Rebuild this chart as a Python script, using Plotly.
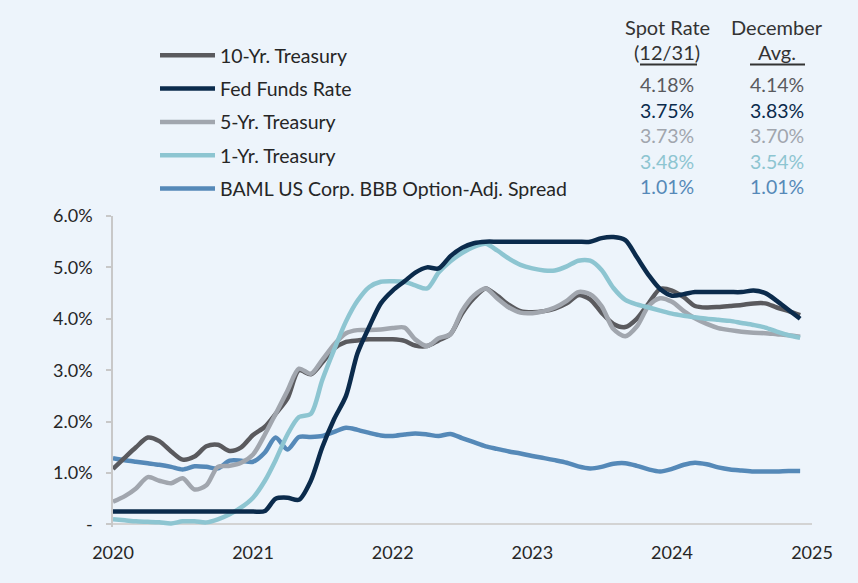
import plotly.graph_objects as go
import pandas as pd

# ---------------- data (monthly, Jan 2020 - Dec 2024) ----------------
dates = pd.date_range("2020-01-01", periods=60, freq="MS")

treasury_10y = [1.08, 1.30, 1.50, 1.69, 1.62, 1.42, 1.26, 1.32, 1.52, 1.55, 1.43, 1.50,
                1.74, 1.90, 2.15, 2.45, 3.00, 2.92, 3.15, 3.42, 3.55, 3.58, 3.60, 3.60,
                3.60, 3.57, 3.48, 3.47, 3.58, 3.70, 4.10, 4.40, 4.59, 4.45, 4.27, 4.15,
                4.13, 4.15, 4.20, 4.30, 4.46, 4.38, 4.12, 3.90, 3.84, 4.00, 4.30, 4.58,
                4.55, 4.42, 4.25, 4.22, 4.23, 4.25, 4.27, 4.30, 4.30, 4.22, 4.15, 4.07]

fed_funds = [0.25, 0.25, 0.25, 0.25, 0.25, 0.25, 0.25, 0.25, 0.25, 0.25, 0.25, 0.25,
             0.25, 0.26, 0.50, 0.52, 0.48, 0.85, 1.50, 2.05, 2.50, 3.33, 3.85, 4.30,
             4.55, 4.73, 4.90, 5.00, 4.98, 5.22, 5.38, 5.47, 5.50, 5.50, 5.50, 5.50,
             5.50, 5.50, 5.50, 5.50, 5.50, 5.50, 5.57, 5.59, 5.53, 5.20, 4.85, 4.58,
             4.45, 4.48, 4.52, 4.52, 4.52, 4.52, 4.52, 4.55, 4.50, 4.35, 4.17, 4.00]

treasury_5y = [0.44, 0.55, 0.70, 0.92, 0.85, 0.80, 0.90, 0.68, 0.76, 1.12, 1.14, 1.20,
               1.36, 1.75, 2.15, 2.60, 3.03, 2.93, 3.20, 3.50, 3.72, 3.78, 3.78, 3.79,
               3.82, 3.83, 3.60, 3.47, 3.62, 3.70, 4.15, 4.45, 4.59, 4.40, 4.22, 4.12,
               4.11, 4.15, 4.22, 4.35, 4.52, 4.48, 4.25, 3.80, 3.66, 3.85, 4.25, 4.40,
               4.33, 4.15, 4.01, 3.90, 3.82, 3.78, 3.75, 3.73, 3.72, 3.70, 3.68, 3.65]

treasury_1y = [0.10, 0.08, 0.06, 0.05, 0.04, 0.02, 0.06, 0.06, 0.04, 0.10, 0.20, 0.33,
               0.52, 0.85, 1.25, 1.75, 2.09, 2.15, 2.81, 3.40, 3.95, 4.35, 4.62, 4.72,
               4.73, 4.72, 4.65, 4.59, 4.90, 5.12, 5.28, 5.40, 5.46, 5.33, 5.17, 5.05,
               4.98, 4.94, 4.94, 5.02, 5.13, 5.13, 4.95, 4.60, 4.37, 4.28, 4.22, 4.16,
               4.10, 4.06, 4.03, 4.00, 3.98, 3.96, 3.92, 3.88, 3.83, 3.75, 3.68, 3.63]

bbb_spread = [1.29, 1.25, 1.22, 1.19, 1.16, 1.12, 1.07, 1.13, 1.12, 1.09, 1.24, 1.24,
              1.22, 1.40, 1.69, 1.46, 1.70, 1.70, 1.72, 1.80, 1.88, 1.84, 1.78, 1.73,
              1.72, 1.75, 1.77, 1.75, 1.72, 1.76, 1.68, 1.60, 1.52, 1.47, 1.42, 1.38,
              1.33, 1.29, 1.25, 1.20, 1.13, 1.09, 1.12, 1.18, 1.19, 1.14, 1.07, 1.03,
              1.08, 1.16, 1.20, 1.17, 1.11, 1.07, 1.05, 1.03, 1.03, 1.03, 1.04, 1.04]

series_names = ["10-Yr. Treasury", "Fed Funds Rate", "5-Yr. Treasury",
                "1-Yr. Treasury", "BAML US Corp. BBB Option-Adj. Spread"]
series_values = [treasury_10y, fed_funds, treasury_5y, treasury_1y, bbb_spread]
series_colors = ["#5a5a5e", "#0b2b4c", "#a1a6ae", "#8dc5d1", "#5589b8"]

spot_rate = ["4.18%", "3.75%", "3.73%", "3.48%", "1.01%"]
december_avg = ["4.14%", "3.83%", "3.70%", "3.54%", "1.01%"]

y_tickvals = [0, 1, 2, 3, 4, 5, 6]
y_ticktext = ["-", "1.0%", "2.0%", "3.0%", "4.0%", "5.0%", "6.0%"]
x_tickvals = ["2020-01-01", "2021-01-01", "2022-01-01", "2023-01-01", "2024-01-01", "2025-01-01"]
x_ticktext = ["2020", "2021", "2022", "2023", "2024", "2025"]

# ---------------- layout geometry ----------------
W, H = 858, 583
PL, PR, PT = 113, 812, 216
Y0 = -0.05
PB = 524.5 + (0 - Y0) * (524.5 - 216) / 6.0
BG = "#edf4fb"
FONT = "Lato"
TXT = "#262626"
BIG = 19.5


def px_x(x):
    return (x - PL) / (PR - PL)


def px_y(y):
    return (PB - y) / (PB - PT)


fig = go.Figure()

draw_order = [4, 0, 2, 3, 1]  # bottom -> top
for i in draw_order:
    fig.add_trace(go.Scatter(
        x=dates, y=series_values[i], name=series_names[i], mode="lines",
        line=dict(color=series_colors[i], width=4.5, shape="spline", smoothing=0.8),
        legendrank=i + 1, legendgroup=str(i), hoverinfo="skip",
    ))

annotations = []
# table headers
for cx, l1, l2 in [(667, "Spot Rate", "(12/31)"), (777, "December", "Avg.")]:
    annotations.append(dict(x=px_x(cx), y=px_y(27), xref="paper", yref="paper",
                            text=l1, showarrow=False, xanchor="center", yanchor="middle",
                            font=dict(family=FONT, size=20, color="#333333")))
    annotations.append(dict(x=px_x(cx), y=px_y(52), xref="paper", yref="paper",
                            text=l2, showarrow=False, xanchor="center", yanchor="middle",
                            font=dict(family=FONT, size=20, color="#333333")))
row_y = [84, 110, 135.5, 161, 186.5]
for k in range(5):
    for cx, vals in [(667, spot_rate), (777, december_avg)]:
        annotations.append(dict(x=px_x(cx), y=px_y(row_y[k]), xref="paper", yref="paper",
                                text=vals[k], showarrow=False, xanchor="center", yanchor="middle",
                                font=dict(family=FONT, size=BIG, color=series_colors[k])))

shapes = [
    dict(type="line", xref="paper", yref="paper", x0=px_x(640), x1=px_x(697),
         y0=px_y(64.5), y1=px_y(64.5), line=dict(color="#333333", width=2)),
    dict(type="line", xref="paper", yref="paper", x0=px_x(750), x1=px_x(805),
         y0=px_y(64.5), y1=px_y(64.5), line=dict(color="#333333", width=2)),
]

fig.update_layout(
    width=W, height=H,
    paper_bgcolor=BG, plot_bgcolor=BG,
    margin=dict(l=PL, r=W - PR, t=PT, b=H - PB, autoexpand=False),
    font=dict(family=FONT, size=18, color=TXT),
    showlegend=True,
    legend=dict(xref="container", yref="container", x=155 / W, y=1 - 36 / H,
                xanchor="left", yanchor="top", bgcolor="rgba(0,0,0,0)",
                font=dict(family=FONT, size=BIG, color=TXT),
                itemwidth=55, tracegroupgap=5, traceorder="grouped"),
    annotations=annotations,
    shapes=shapes,
    hovermode=False,
    xaxis=dict(type="date", range=["2020-01-01", "2025-01-01"],
               tickvals=x_tickvals, ticktext=x_ticktext,
               showgrid=False, zeroline=False, showline=False,
               ticks="outside", ticklen=0, tickcolor=BG, ticklabelstandoff=9,
               tickfont=dict(family=FONT, size=18, color=TXT)),
    yaxis=dict(range=[Y0, 6.0], tickvals=y_tickvals, ticktext=y_ticktext,
               showgrid=False, zeroline=True, zerolinecolor="#d3d3d3", zerolinewidth=2,
               showline=True, linecolor="#c8c8c8", linewidth=1.5,
               ticks="outside", ticklen=5, tickcolor="#c8c8c8", tickwidth=1.5,
               ticklabelstandoff=10,
               tickfont=dict(family=FONT, size=18, color=TXT)),
)

fig.write_html(
    "out.html",
    config={"displayModeBar": False},
    post_script=("document.body.style.margin='0';"
                 "document.body.style.background='%s';"
                 "document.documentElement.style.background='%s';") % (BG, BG),
)
